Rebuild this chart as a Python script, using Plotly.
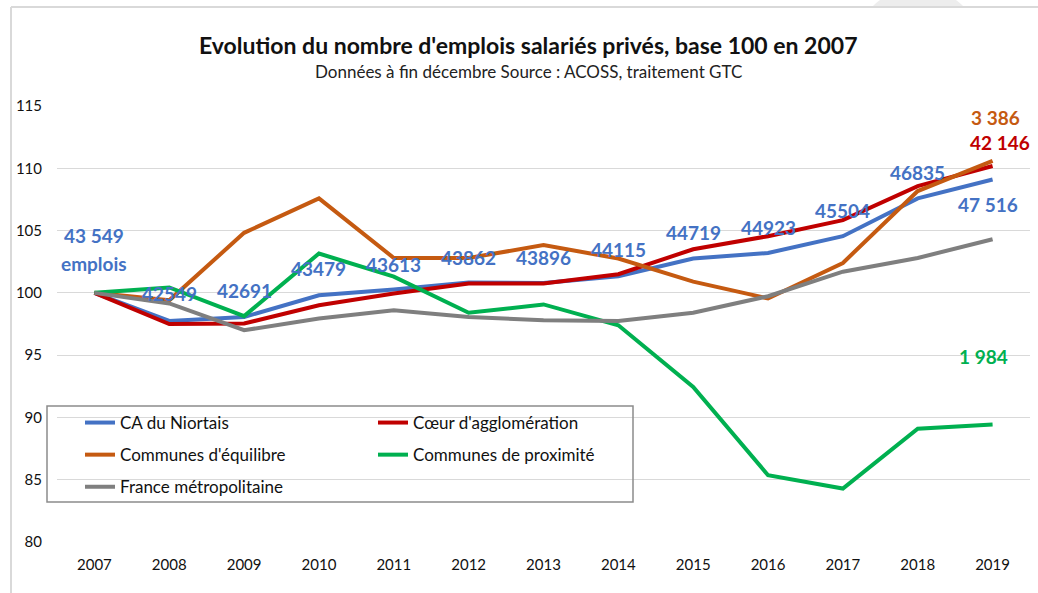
import plotly.graph_objects as go

years = ["2007", "2008", "2009", "2010", "2011", "2012", "2013",
         "2014", "2015", "2016", "2017", "2018", "2019"]

ca_niortais = [100, 97.75, 98.07, 99.8, 100.27, 100.83, 100.8, 101.34, 102.76, 103.2, 104.55, 107.58, 109.1]
coeur_agglo = [100, 97.49, 97.54, 99.0, 99.95, 100.75, 100.75, 101.5, 103.5, 104.55, 105.84, 108.57, 110.18]
communes_equilibre = [100, 99.4, 104.82, 107.58, 102.8, 102.8, 103.83, 102.76, 100.9, 99.55, 102.4, 108.17, 110.6]
communes_proximite = [100, 100.43, 98.13, 103.16, 101.3, 98.4, 99.07, 97.4, 92.45, 85.36, 84.29, 89.1, 89.43]
france_metro = [100, 99.15, 97.0, 97.94, 98.6, 98.07, 97.8, 97.75, 98.4, 99.73, 101.7, 102.8, 104.3]

series_names = ["CA du Niortais", "Cœur d'agglomération", "Communes d'équilibre",
                "Communes de proximité", "France métropolitaine"]
series_values = [ca_niortais, coeur_agglo, communes_equilibre, communes_proximite, france_metro]
series_colors = ["#4472C4", "#C00000", "#C55A11", "#00B050", "#7F7F7F"]

# Employment counts shown as labels (CA du Niortais)
ca_labels = ["43 549", "42549", "42691", "43479", "43613", "43862", "43896",
             "44115", "44719", "44923", "45504", "46835", "47 516"]
end_labels = {"Cœur d'agglomération": "42 146", "Communes d'équilibre": "3 386",
              "Communes de proximité": "1 984"}

y_ticks = [80, 85, 90, 95, 100, 105, 110, 115]

# ---- layout geometry (pixels) ----
W, H = 1038, 593
ML, MR, MT, MB = 57, 8, 106, 51
PW, PH = W - ML - MR, H - MT - MB


def px_x(p):
    return (p - ML) / PW


def px_y(p):
    return (H - MB - p) / PH


FONT = "Lato, 'Open Sans', sans-serif"

fig = go.Figure()
legend_assign = ["legend", "legend2", "legend", "legend2", "legend"]
for name, vals, col, lg in zip(series_names, series_values, series_colors, legend_assign):
    fig.add_trace(go.Scatter(
        x=years, y=vals, mode="lines", name=name,
        line=dict(color=col, width=4),
        legend=lg, legendgroup=name, hoverinfo="skip",
    ))

# label positions (value-axis positions for the text boxes)
ca_label_y = [104.6, 99.98, 100.2, 101.98, 102.3, 102.87, 102.87,
              103.5, 104.88, 105.28, 106.64, 109.7, 107.13]
LBL = 19
ann = []
for i, (txt, yy) in enumerate(zip(ca_labels, ca_label_y)):
    xs = -5 if i == len(years) - 1 else 0
    ann.append(dict(x=i, y=yy, xref="x", yref="y", text="<b>%s</b>" % txt,
                    showarrow=False, xshift=xs, xanchor="center", yanchor="middle",
                    font=dict(family=FONT, size=LBL, color="#4472C4")))
ann.append(dict(x=0, y=102.36, xref="x", yref="y", text="<b>emplois</b>",
                showarrow=False, xanchor="center", yanchor="middle",
                font=dict(family=FONT, size=LBL, color="#4472C4")))
end_pos = {"Cœur d'agglomération": (112.1, 7), "Communes d'équilibre": (114.1, 3),
           "Communes de proximité": (94.92, -9)}
for name, col in zip(series_names, series_colors):
    if name in end_labels:
        yy, xs = end_pos[name]
        ann.append(dict(x=len(years) - 1, y=yy, xref="x", yref="y",
                        text="<b>%s</b>" % end_labels[name], showarrow=False, xshift=xs,
                        xanchor="center", yanchor="middle",
                        font=dict(family=FONT, size=LBL, color=col)))

# Titles
ann.append(dict(x=px_x(528), y=px_y(45), xref="paper", yref="paper",
                xanchor="center", yanchor="middle",
                text="<b>Evolution du nombre d'emplois salariés privés, base 100 en 2007</b>",
                showarrow=False, font=dict(family=FONT, size=23, color="#111111")))
ann.append(dict(x=px_x(528), y=px_y(72), xref="paper", yref="paper",
                xanchor="center", yanchor="middle",
                text="Données à fin décembre Source : ACOSS, traitement GTC",
                showarrow=False, font=dict(family=FONT, size=17, color="#222222")))

shapes = [
    # decorative grey disc at top
    dict(type="circle", xref="paper", yref="paper", layer="below",
         x0=px_x(854), x1=px_x(982), y0=px_y(-12.5), y1=px_y(115.5),
         fillcolor="#EDEDED", line=dict(width=0)),
    dict(type="rect", xref="paper", yref="paper", layer="below",
         x0=px_x(840), x1=px_x(1000), y0=px_y(8), y1=px_y(130),
         fillcolor="white", line=dict(width=0)),
    # chart area borders
    dict(type="line", xref="paper", yref="paper", layer="below",
         x0=px_x(11), x1=px_x(1038), y0=px_y(7), y1=px_y(7),
         line=dict(color="#D9D9D9", width=2)),
    dict(type="line", xref="paper", yref="paper", layer="below",
         x0=px_x(11), x1=px_x(11), y0=px_y(7), y1=px_y(593),
         line=dict(color="#D9D9D9", width=2)),
    # legend box
    dict(type="rect", xref="paper", yref="paper", layer="above",
         x0=px_x(47), x1=px_x(633), y0=px_y(502), y1=px_y(406),
         fillcolor="rgba(255,255,255,0)", line=dict(color="#8C8C8C", width=1.5)),
]

legend_common = dict(bgcolor="rgba(0,0,0,0)", borderwidth=0,
                     font=dict(family=FONT, size=17, color="#111111"),
                     traceorder="grouped", tracegroupgap=7,
                     xanchor="left", yanchor="top", orientation="v",
                     itemclick=False, itemdoubleclick=False)

fig.update_layout(
    width=W, height=H,
    margin=dict(l=ML, r=MR, t=MT, b=MB),
    paper_bgcolor="white", plot_bgcolor="white",
    showlegend=True,
    legend=dict(x=px_x(80), y=px_y(405), **legend_common),
    legend2=dict(x=px_x(373), y=px_y(405), **legend_common),
    annotations=ann,
    shapes=shapes,
    xaxis=dict(type="category", categoryorder="array", categoryarray=years,
               range=[-0.5, len(years) - 0.5], showgrid=False,
               showline=False, zeroline=False, ticks="",
               tickfont=dict(family=FONT, size=15, color="#111111"),
               ticklabelstandoff=12, fixedrange=True),
    yaxis=dict(range=[80, 115], tickvals=y_ticks, showgrid=True,
               gridcolor="#D9D9D9", gridwidth=1, zeroline=False, showline=False,
               ticks="", tickfont=dict(family=FONT, size=15, color="#111111"),
               ticklabelstandoff=14, fixedrange=True),
)

fig.write_html("out.html", config={"displayModeBar": False},
               post_script="document.body.style.margin='0';document.body.style.overflow='hidden';")
